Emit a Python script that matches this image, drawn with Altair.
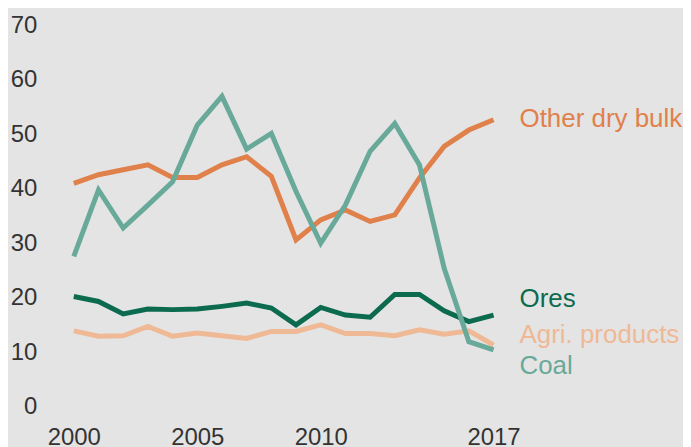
import altair as alt
import pandas as pd

years = list(range(2000, 2018))
coal = [27.6, 39.8, 32.8, 37.0, 41.3, 51.7, 57.0, 47.3, 50.2, 39.5, 30.0, 37.0, 46.9, 52.0, 44.4, 25.4, 11.9, 10.4]
other = [41.0, 42.6, 43.5, 44.4, 42.1, 42.1, 44.4, 45.9, 42.3, 30.6, 34.3, 36.1, 34.0, 35.2, 42.0, 47.8, 50.8, 52.7]
ores = [20.2, 19.3, 17.0, 17.9, 17.8, 17.9, 18.4, 19.0, 18.1, 15.0, 18.2, 16.8, 16.4, 20.6, 20.6, 17.6, 15.6, 16.8]
agri = [13.9, 12.9, 13.0, 14.7, 12.9, 13.5, 13.0, 12.5, 13.8, 13.8, 15.0, 13.4, 13.4, 13.0, 14.1, 13.3, 13.9, 11.3]

series_names = ["Other dry bulk", "Ores", "Agri. products", "Coal"]
series_colors = ["#e0804a", "#0c6b4f", "#efb995", "#69a99a"]
label_values = [52.8, 19.7, 13.1, 7.4]
x_ticks = [2000, 2005, 2010, 2017]
y_ticks = [0, 10, 20, 30, 40, 50, 60, 70]

rows = []
for name, vals in zip(series_names, [other, ores, agri, coal]):
    for y, v in zip(years, vals):
        rows.append({"year": y, "value": v, "series": name})
df = pd.DataFrame(rows)

labels = pd.DataFrame({"series": series_names, "year": [2017] * 4, "value": label_values})

color = alt.Color("series:N", scale=alt.Scale(domain=series_names, range=series_colors), legend=None)

x = alt.X("year:Q", scale=alt.Scale(domain=[2000, 2017], nice=False, zero=False),
          axis=alt.Axis(values=x_ticks, format="d", title=None, domain=False, ticks=False,
                        grid=False, labelFontSize=24, labelColor="#333333", labelFlush=False,
                        labelOverlap=False, labelPadding=19, labelFont="Liberation Sans"))
y = alt.Y("value:Q", scale=alt.Scale(domain=[0, 70], nice=False),
          axis=alt.Axis(values=y_ticks, title=None, domain=False, ticks=False, grid=False,
                        labelFontSize=24, labelColor="#333333", labelPadding=37,
                        labelFlush=False, labelFont="Liberation Sans"))

lines = alt.Chart(df).mark_line(strokeWidth=5, clip=False).encode(
    x=x, y=y, color=color, detail="series:N"
)

texts = alt.Chart(labels).mark_text(align="left", baseline="middle", dx=26, fontSize=26,
                                    font="Liberation Sans").encode(
    x="year:Q", y="value:Q", text="series:N", color=color
)

chart = alt.layer(lines, texts).properties(
    width=421, height=382, background="#e4e4e4",
    autosize=alt.AutoSizeParams(type="none"),
    padding={"left": 66, "top": 17, "right": 190, "bottom": 40},
).configure_view(stroke=None)

chart.save("out.html", embed_options={"renderer": "svg", "actions": False})
